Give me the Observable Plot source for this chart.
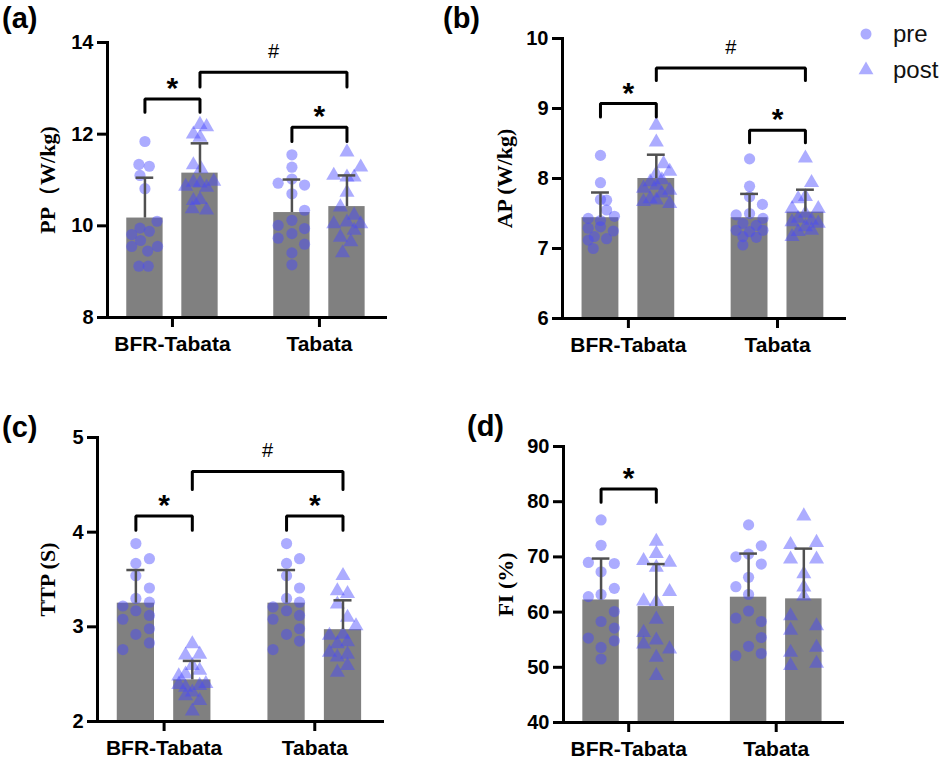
<!DOCTYPE html>
<html>
<head>
<meta charset="utf-8">
<script src="https://cdn.jsdelivr.net/npm/d3@7"></script>
<script src="https://cdn.jsdelivr.net/npm/@observablehq/plot@0.6"></script>
<style>
  body { margin: 0; background: #fff; }
  #chart { position: relative; width: 941px; height: 759px; overflow: hidden; background: #fff; }
  .panel { position: absolute; }
  .tag { position: absolute; font: bold 29px "Liberation Sans", Arial, sans-serif; line-height: 1; color: #000; }
</style>
</head>
<body>
<div id="chart"></div>
<script>
// groups and time points, bars ordered BFR pre, BFR post, Tabata pre, Tabata post
const groups = ["BFR-Tabata", "Tabata"];
const times = ["pre", "post"];

// (a) peak power
const ppTicks = [8, 10, 12, 14];
const ppMean = [10.17, 11.15, 10.29, 10.42];
const ppSD = [0.88, 0.65, 0.72, 0.68];
const ppValues = [
  [11.84, 11.34, 11.30, 11.10, 10.81, 10.10, 9.95, 9.81, 9.88, 9.68, 9.55, 9.55, 9.45, 9.12, 9.12],
  [12.21, 12.16, 12.00, 11.93, 11.33, 11.24, 10.95, 10.93, 10.86, 10.84, 10.97, 10.55, 10.57, 10.37, 10.34],
  [11.55, 11.28, 11.02, 10.93, 10.89, 10.70, 10.34, 10.12, 10.01, 9.94, 9.83, 9.73, 9.60, 9.41, 9.15],
  [11.61, 11.28, 11.10, 11.06, 11.06, 10.73, 10.41, 10.23, 10.08, 10.04, 10.04, 9.90, 9.75, 9.65, 9.41]
];
const ppJitter = [
  [0, -0.11, 0.08, -0.09, 0, 0.22, -0.09, -0.24, 0.08, -0.08, -0.24, 0.23, 0.05, -0.11, 0.06],
  [0, 0.12, -0.12, 0, -0.12, 0.02, -0.12, 0, -0.26, 0.12, 0.25, -0.12, 0, -0.14, 0.12],
  [0, 0, 0, -0.25, 0.23, 0, 0.23, 0, -0.25, 0.23, 0, -0.25, 0.23, 0, 0],
  [0, 0.25, -0.24, 0, 0.13, 0, -0.12, 0.13, 0, -0.24, 0.25, 0.13, -0.12, 0.07, -0.08]
];
const ppBrackets = [[0, 1, 12.77, 12.48, "*"], [1, 3, 13.35, 13.03, "#"], [2, 3, 12.15, 11.84, "*"]];

// (b) average power
const apTicks = [6, 7, 8, 9, 10];
const apMean = [7.44, 8.00, 7.44, 7.52];
const apSD = [0.36, 0.34, 0.34, 0.32];
const apValues = [
  [8.33, 7.94, 7.70, 7.69, 7.55, 7.46, 7.43, 7.40, 7.31, 7.29, 7.25, 7.17, 7.14, 7.12, 7.00],
  [8.76, 8.52, 8.21, 8.10, 8.07, 7.98, 7.95, 7.90, 7.86, 7.83, 7.79, 7.71, 7.69, 7.67, 7.64],
  [8.28, 7.89, 7.74, 7.63, 7.50, 7.48, 7.43, 7.36, 7.33, 7.26, 7.24, 7.26, 7.17, 7.16, 7.05],
  [8.29, 7.94, 7.74, 7.71, 7.57, 7.57, 7.50, 7.43, 7.40, 7.38, 7.36, 7.31, 7.26, 7.24, 7.17]
];
const apJitter = [
  [0, 0, 0, 0.11, 0.11, 0.25, -0.22, 0, 0, -0.22, 0.23, -0.11, 0.11, -0.22, -0.13],
  [0, 0, 0.13, 0.24, 0, 0.1, -0.11, 0, -0.23, 0.24, 0.1, -0.11, 0, -0.23, 0.24],
  [0, 0, 0, 0.23, 0, -0.24, 0.24, -0.12, 0.12, -0.24, 0, 0.24, -0.12, 0.12, -0.12],
  [0, 0.11, 0, -0.13, -0.24, 0.23, 0, -0.13, 0.11, -0.24, 0.23, 0, 0.11, -0.13, -0.24]
];
const apBrackets = [[0, 1, 9.07, 8.88, "*"], [1, 3, 9.58, 9.40, "#"], [2, 3, 8.69, 8.51, "*"]];

// (c) time to peak
const ttpTicks = [2, 3, 4, 5];
const ttpMean = [3.25, 2.44, 3.25, 2.97];
const ttpSD = [0.35, 0.20, 0.35, 0.31];
const ttpValues = [
  [3.88, 3.72, 3.67, 3.54, 3.41, 3.30, 3.26, 3.22, 3.17, 3.12, 3.08, 2.98, 2.92, 2.83, 2.76],
  [2.82, 2.71, 2.70, 2.59, 2.54, 2.50, 2.48, 2.40, 2.39, 2.38, 2.36, 2.31, 2.27, 2.22, 2.11],
  [3.88, 3.72, 3.67, 3.54, 3.41, 3.30, 3.26, 3.21, 3.17, 3.12, 3.08, 2.98, 2.92, 2.85, 2.76],
  [3.54, 3.38, 3.35, 3.24, 3.10, 3.01, 2.92, 2.91, 2.84, 2.82, 2.73, 2.71, 2.68, 2.59, 2.52]
];
const ttpJitter = [
  [0, 0.24, 0, 0, 0.24, 0, 0.24, -0.23, 0, 0.24, -0.23, 0.24, 0, 0.24, -0.23],
  [0, 0.13, -0.12, 0, 0.13, -0.12, -0.24, 0.24, -0.24, 0.13, -0.12, 0, -0.12, 0.13, 0],
  [0, 0.23, 0, 0, 0.23, 0, 0.23, -0.24, 0, 0.23, -0.24, 0.23, 0, 0.23, -0.24],
  [0, -0.1, 0.08, -0.1, 0.08, 0.23, 0, -0.24, 0.08, -0.1, -0.24, 0.08, -0.1, 0.08, -0.1]
];
const ttpBrackets = [[0, 1, 4.17, 4.02, "*"], [1, 3, 4.64, 4.45, "#"], [2, 3, 4.17, 4.02, "*"]];

// (d) fatigue index
const fiTicks = [40, 50, 60, 70, 80, 90];
const fiMean = [62.2, 61.0, 62.7, 62.4];
const fiSD = [7.5, 7.7, 7.9, 9.1];
const fiValues = [
  [76.7, 72.1, 69.0, 68.8, 67.3, 64.3, 63.2, 62.8, 60.1, 58.3, 57.1, 55.3, 54.8, 53.6, 51.5],
  [72.8, 70.6, 69.3, 69.0, 68.1, 63.7, 62.0, 61.9, 58.7, 56.3, 54.9, 54.2, 53.3, 51.8, 48.5],
  [75.8, 72.0, 70.5, 70.0, 68.7, 66.3, 64.6, 63.2, 60.2, 58.9, 58.3, 55.4, 53.8, 52.5, 52.1],
  [77.4, 72.6, 72.2, 69.6, 69.6, 66.9, 64.5, 62.9, 59.3, 57.5, 56.7, 53.6, 52.7, 50.7, 50.3]
];
const fiJitter = [
  [0, 0, -0.23, 0.24, 0, 0.24, 0, -0.23, 0.24, 0, 0.24, -0.23, 0.24, 0, 0],
  [0, 0, -0.23, 0.24, 0, 0.24, -0.23, 0, 0, -0.23, 0, -0.23, 0.24, 0, 0],
  [0, 0.23, 0, -0.23, 0.23, 0, -0.23, 0, 0, -0.23, 0.23, 0.23, 0, 0.23, -0.23],
  [0, 0.23, -0.24, -0.24, 0.23, 0, 0, 0, -0.24, 0.23, -0.24, 0.23, -0.24, 0.23, -0.24]
];
const fiBrackets = [[0, 1, 82.3, 79.9, "*"]];

const sans = "'Liberation Sans', Arial, sans-serif";
const serif = "'Liberation Serif', 'Times New Roman', serif";
const dotFill = "rgb(70,70,255)";
const dotOpacity = 0.45;
const groupStep = 2.67;   // distance between group starts, in bar steps
const halfBar = 0.33;
const halfCap = 0.16;

const pos = i => Math.floor(i / 2) * groupStep + (i % 2);

function makePanel(cfg) {
  const bars = cfg.mean.map((m, i) => ({
    x: pos(i), x1: pos(i) - halfBar, x2: pos(i) + halfBar,
    c1: pos(i) - halfCap, c2: pos(i) + halfCap,
    y0: cfg.ticks[0], y: m, top: m + cfg.sd[i]
  }));
  const dots = cfg.values.flatMap((vals, i) => vals.map((v, k) => ({
    x: pos(i) + cfg.jitter[i][k], y: v, time: times[i % 2]
  })));
  const lines = cfg.brackets.flatMap(([a, b, top, leg], j) => [
    {id: j, x: pos(a), y: leg}, {id: j, x: pos(a), y: top},
    {id: j, x: pos(b), y: top}, {id: j, x: pos(b), y: leg}
  ]);
  const labels = cfg.brackets.map(([a, b, top, leg, text]) => ({x: (pos(a) + pos(b)) / 2, y: top, text}));
  const centers = groups.map((g, i) => i * groupStep + 0.5);

  const plot = Plot.plot({
    width: cfg.width,
    height: cfg.height,
    marginLeft: cfg.m[0],
    marginRight: cfg.m[1],
    marginTop: cfg.m[2],
    marginBottom: cfg.m[3],
    style: {background: "transparent", overflow: "visible"},
    x: {domain: [-0.68, 4.37], axis: null},
    y: {domain: [cfg.ticks[0], cfg.ticks[cfg.ticks.length - 1]], axis: null},
    symbol: {domain: times, range: ["circle", "triangle"]},
    marks: [
      Plot.rectY(bars, {x1: "x1", x2: "x2", y1: "y0", y2: "y", fill: "#808080"}),
      Plot.dot(dots, {x: "x", y: "y", symbol: "time", r: 5.6, fill: dotFill, fillOpacity: dotOpacity, stroke: "none"}),
      Plot.ruleX(bars, {x: "x", y1: "y", y2: "top", stroke: "#505050", strokeWidth: 2.5}),
      Plot.ruleY(bars, {y: "top", x1: "c1", x2: "c2", stroke: "#505050", strokeWidth: 2.5}),
      Plot.line(lines, {x: "x", y: "y", z: "id", stroke: "#000", strokeWidth: 3, strokeLinejoin: "miter"}),
      Plot.text(labels.filter(d => d.text === "*"), {x: "x", y: "y", text: "text", fontSize: 30, fontWeight: "bold", fontFamily: sans, dy: -10.5, fill: "#000"}),
      Plot.text(labels.filter(d => d.text === "#"), {x: "x", y: "y", text: "text", fontSize: 20, fontFamily: sans, dy: -20.5, fill: "#000"}),
      Plot.axisY({ticks: cfg.ticks, tickFormat: d => String(d), tickSize: 10, tickPadding: 4, strokeWidth: 3, fontSize: 20, fontWeight: "bold", fontFamily: sans, label: null, fill: "#000"}),
      Plot.axisY({ticks: [], tickSize: 0, label: cfg.label, labelAnchor: "center", labelArrow: "none", labelOffset: cfg.labelOffset, fontSize: 22, fontWeight: "bold", fontFamily: serif, fill: "#000"}),
      Plot.axisX({ticks: centers, tickFormat: d => groups[Math.round((d - 0.5) / groupStep)], tickSize: 10, tickPadding: 9, strokeWidth: 3, fontSize: 21, fontWeight: "bold", fontFamily: sans, label: null, fill: "#000"}),
      Plot.frame({anchor: "left", strokeWidth: 3, stroke: "#000"}),
      Plot.frame({anchor: "bottom", strokeWidth: 3, stroke: "#000"})
    ]
  });
  plot.classList.add("panel");
  plot.style.left = cfg.left + "px";
  plot.style.top = cfg.top + "px";
  return plot;
}

const chart = document.getElementById("chart");

const panels = [
  {tag: "(a)", tagPos: [2, 4], label: "PP（W/kg)", ticks: ppTicks, mean: ppMean, sd: ppSD, values: ppValues, jitter: ppJitter, brackets: ppBrackets,
   left: 0, top: 0, width: 470, height: 380, m: [107, 85, 42, 63], labelOffset: 68},
  {tag: "(b)", tagPos: [443, 4], label: "AP (W/kg)", ticks: apTicks, mean: apMean, sd: apSD, values: apValues, jitter: apJitter, brackets: apBrackets,
   left: 470, top: 0, width: 471, height: 380, m: [92, 97, 38, 62], labelOffset: 66},
  {tag: "(c)", tagPos: [2, 413], label: "TTP (S)", ticks: ttpTicks, mean: ttpMean, sd: ttpSD, values: ttpValues, jitter: ttpJitter, brackets: ttpBrackets,
   left: 0, top: 380, width: 470, height: 400, m: [97, 88, 57, 59], labelOffset: 58},
  {tag: "(d)", tagPos: [467, 412], label: "FI (%)", ticks: fiTicks, mean: fiMean, sd: fiSD, values: fiValues, jitter: fiJitter, brackets: fiBrackets,
   left: 470, top: 380, width: 471, height: 400, m: [93, 99, 66, 58], labelOffset: 66}
];

panels.forEach(cfg => {
  chart.appendChild(makePanel(cfg));
  const tag = document.createElement("div");
  tag.className = "tag";
  tag.textContent = cfg.tag;
  tag.style.left = cfg.tagPos[0] + "px";
  tag.style.top = cfg.tagPos[1] + "px";
  chart.appendChild(tag);
});

// legend
const legend = d3.select(chart).append("svg")
  .attr("width", 100).attr("height", 80)
  .style("position", "absolute").style("left", "841px").style("top", "10px");
const sym = d3.symbol().size(95);
times.forEach((t, i) => {
  const y = 24 + i * 36;
  legend.append("path")
    .attr("d", sym.type(i === 0 ? d3.symbolCircle : d3.symbolTriangle)())
    .attr("transform", `translate(25,${y})`)
    .attr("fill", dotFill).attr("fill-opacity", dotOpacity);
  legend.append("text")
    .attr("x", 52).attr("y", y).attr("dy", "0.32em")
    .attr("font-family", sans).attr("font-size", 24).attr("fill", "#111")
    .text(t);
});
</script>
</body>
</html>
